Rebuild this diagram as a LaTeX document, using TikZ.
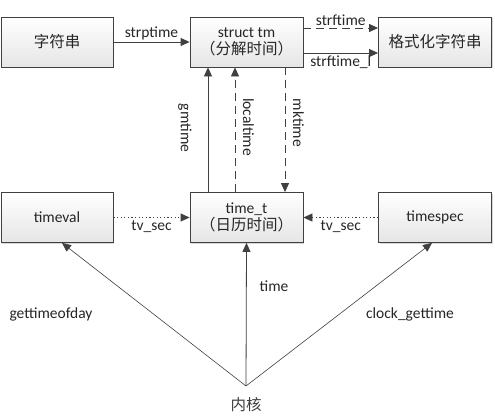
\documentclass[tikz,border=0pt]{standalone}
\usepackage{fontspec}
\setmainfont{Carlito}
\newfontfamily\cjk{Noto Sans CJK SC}
\usetikzlibrary{arrows.meta,shadows}
\definecolor{edge}{HTML}{404040}
\begin{document}
\begin{tikzpicture}[x=1pt,y=-1pt,
  box/.style={draw=edge,line width=0.8pt,top color=white,bottom color=black!10,
    minimum width=112pt,minimum height=50pt,inner sep=0pt,align=center,
    font=\fontsize{15.5}{19}\selectfont,text=black!85,
    drop shadow={shadow xshift=1.2pt,shadow yshift=-1.2pt,fill=black!25,opacity=0.6}},
  conn/.style={draw=edge,line width=0.8pt,-{Triangle[length=9pt,width=8pt]}},
  dashln/.style={dash pattern=on 8pt off 5pt},
  dotln/.style={dash pattern=on 1.2pt off 2.4pt},
  lbl/.style={font=\fontsize{15.5}{18}\selectfont,text=black!85,inner sep=1pt},
  cjkf/.style={},
  ]
\useasboundingbox (0,0) rectangle (495,420);
\fill[white] (0,0) rectangle (495,420);
% boxes
\node[box] (str) at (57,42) {\cjk\fontsize{15.5}{18}\selectfont 字符串};
\node[box,minimum width=113pt] (tm) at (246.5,42) {struct tm\\[-2pt]{\cjk\fontsize{15.5}{18}\selectfont （分解时间）}};
\node[box,minimum width=113pt] (fmt) at (435,42) {\cjk\fontsize{15.5}{18}\selectfont 格式化字符串};
\node[box] (tv) at (57,217.5) {timeval};
\node[box,minimum width=113pt] (tt) at (246.5,217.5) {time\_t\\[-2pt]{\cjk\fontsize{15.5}{18}\selectfont （日历时间）}};
\node[box,minimum width=113pt] (ts) at (435,217.5) {timespec};
\node[font=\cjk\fontsize{15.5}{18}\selectfont,text=black!75] (kern) at (246,405) {内核};
\coordinate (apex) at (246,386);
% top row
\draw[conn] (str.east) -- node[lbl,above=1pt] {strptime} (tm.west);
\draw[conn,dashln] (tm.east |- 0,28) -- node[lbl,above=1pt] {strftime} (fmt.west |- 0,28);
\draw[conn] (tm.east |- 0,53) -- node[lbl,below=1pt] {strftime\_l} (fmt.west |- 0,53);
% verticals
\draw[conn] (tt.north -| 208,0) -- (tm.south -| 208,0);
\node[lbl,rotate=-90] at (185,128) {gmtime};
\draw[conn,dashln] (tt.north -| 235,0) -- (tm.south -| 235,0);
\node[lbl,rotate=-90] at (248.5,127) {localtime};
\draw[conn,dashln] (tm.south -| 285,0) -- (tt.north -| 285,0);
\node[lbl,rotate=-90] at (298.5,123) {mktime};
% middle row
\draw[conn,dotln] (tv.east) -- node[lbl,below=2pt] {tv\_sec} (tt.west);
\draw[conn,dotln] (ts.west) -- node[lbl,below=2pt] {tv\_sec} (tt.east);
% kernel
\draw[conn,line width=0.6pt] (apex) -- (tv.south -| 62,0);
\draw[conn] (apex) -- (tt.south);
\draw[conn,line width=0.6pt] (apex) -- (ts.south -| 432,0);
\node[lbl] at (274,286) {time};
\node[lbl] at (51,314) {gettimeofday};
\node[lbl] at (410,314) {clock\_gettime};
\end{tikzpicture}
\end{document}
